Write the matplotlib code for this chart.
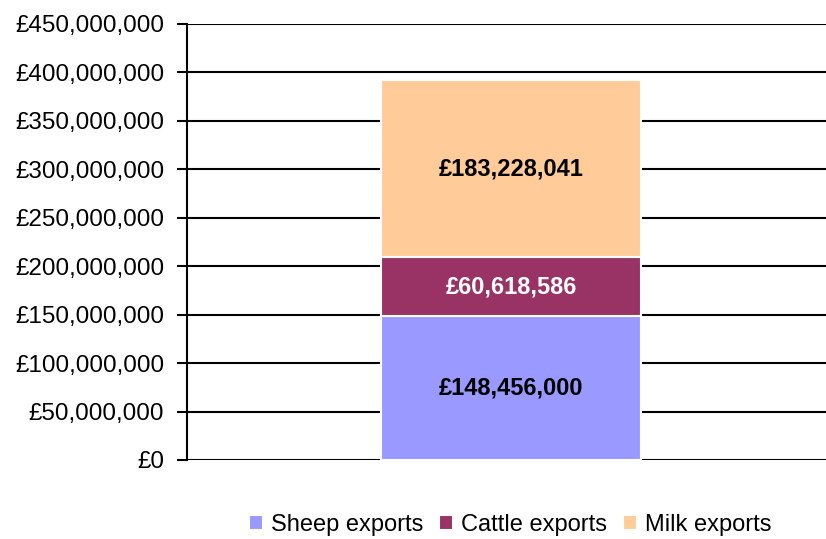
import matplotlib.pyplot as plt
import numpy as np

from matplotlib.ticker import StrMethodFormatter

plt.rcParams['font.family'] = ['Liberation Sans', 'DejaVu Sans']

# ================= Data =======================
series = ['Sheep exports', 'Cattle exports', 'Milk exports']
values = [148456000, 60618586, 183228041]
colors = ['#9999FF', '#993366', '#FFCC99']
label_colors = ['black', 'white', 'black']
y_ticks = np.arange(0, 450000001, 50000000)

# =====================================================
fig = plt.figure(figsize=(8.26, 5.39), dpi=100)
ax = fig.add_axes([0.2264, 0.1466, 0.7736, 0.8089])

bottom = 0
for i in range(len(series)):
    ax.bar(0, values[i], bottom=bottom, width=0.407, color=colors[i],
           edgecolor='white', linewidth=1.5, label=series[i], zorder=3)
    ax.text(0, bottom + values[i] / 2, '£{:,.0f}'.format(values[i]),
            ha='center', va='center', fontsize=17, fontweight='bold',
            color=label_colors[i], zorder=4)
    bottom += values[i]

ax.set_xlim(-0.507, 0.493)
ax.set_ylim(0, 450000000)
ax.set_yticks(y_ticks)
ax.yaxis.set_major_formatter(StrMethodFormatter('£{x:,.0f}'))
ax.tick_params(axis='y', labelsize=17.5, length=7, width=1.5, direction='out', pad=9.5)
ax.set_xticks([])
ax.grid(axis='y', color='black', linewidth=1.5, zorder=1)
for s in ['top', 'right', 'bottom']:
    ax.spines[s].set_visible(False)
ax.spines['left'].set_linewidth(1.5)

fig.legend(loc='center', bbox_to_anchor=(510 / 826, 1 - 525 / 539), ncol=3,
           frameon=False, fontsize=17, handlelength=0.6, handleheight=0.6,
           handletextpad=0.35, columnspacing=0.65)

plt.savefig('out.png', dpi=100)
